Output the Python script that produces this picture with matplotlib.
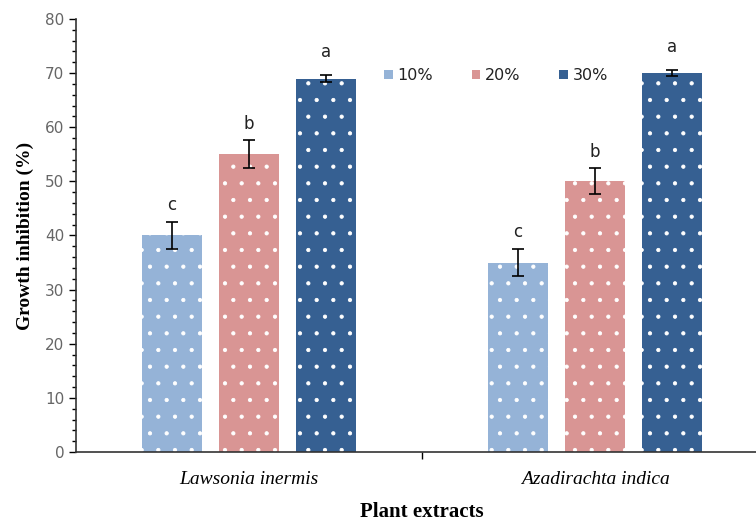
import numpy as np
import matplotlib.pyplot as plt
from matplotlib.ticker import MultipleLocator, FixedLocator

# growth inhibition by extract and concentration
extracts = ['Lawsonia inermis', 'Azadirachta indica']
concentrations = ['10%', '20%', '30%']
inhibition = {
    '10%': [40.0, 35.0],
    '20%': [55.0, 50.0],
    '30%': [69.0, 70.0],
}
errors = {
    '10%': [2.5, 2.5],
    '20%': [2.6, 2.4],
    '30%': [0.7, 0.5],
}
letters = {
    '10%': ['c', 'c'],
    '20%': ['b', 'b'],
    '30%': ['a', 'a'],
}
colors = ['#95B3D7', '#D99594', '#366092']

plt.rcParams['hatch.linewidth'] = 0.6

fig = plt.figure(figsize=(7.56, 5.23), dpi=100)
ax = fig.add_axes([0.1005, 0.1358, 0.9153, 0.8279])

x = np.arange(len(extracts))
width = 0.173
step = 0.2225

for i, conc in enumerate(concentrations):
    pos = x + (i - 1) * step
    ax.bar(pos, inhibition[conc], width, color=colors[i], edgecolor='white',
           linewidth=0, hatch='.', label=conc, zorder=2)
    ax.errorbar(pos, inhibition[conc], yerr=errors[conc], fmt='none',
                ecolor='black', elinewidth=1.2, capsize=4.5, capthick=1.2, zorder=3)
    for p, v, e, t in zip(pos, inhibition[conc], errors[conc], letters[conc]):
        # letters above the tallest bars sit a bit higher
        gap = 2.6 if t == 'a' else 1.4
        ax.text(p, v + e + gap, t, ha='center', va='bottom', fontsize=12,
                color='#222222')

ax.set_xlim(-0.5, 1.5)
ax.set_ylim(0, 80)

ax.yaxis.set_major_locator(MultipleLocator(10))
ax.yaxis.set_minor_locator(MultipleLocator(2))
ax.tick_params(axis='y', which='major', length=5, width=1, labelsize=11,
               labelcolor='#666666', direction='out')
ax.tick_params(axis='y', which='minor', length=3, width=1, direction='out')

ax.xaxis.set_major_locator(FixedLocator([0.5]))
ax.xaxis.set_minor_locator(FixedLocator(x))
ax.tick_params(axis='x', which='major', length=5, width=1, labelbottom=False)
ax.tick_params(axis='x', which='minor', length=0, pad=14)
ax.xaxis.set_minor_formatter(plt.FixedFormatter(extracts))
for lbl in ax.xaxis.get_minorticklabels():
    lbl.set_fontfamily('Liberation Serif')
    lbl.set_fontstyle('italic')
    lbl.set_fontsize(14)

for side in ['top', 'right']:
    ax.spines[side].set_visible(False)
for side in ['left', 'bottom']:
    ax.spines[side].set_linewidth(1.2)
    ax.spines[side].set_color('#333333')

ax.set_ylabel('Growth inhibition (%)', fontfamily='Liberation Serif',
              fontweight='bold', fontsize=14, labelpad=8)
ax.set_xlabel('Plant extracts', fontfamily='Liberation Serif',
              fontweight='bold', fontsize=15, labelpad=10)

leg = ax.legend(loc='upper center', bbox_to_anchor=(0.607, 0.92), ncol=3,
                frameon=False, fontsize=11.5, handlelength=0.55, handleheight=0.55,
                handletextpad=0.3, columnspacing=2.4)
for t in leg.get_texts():
    t.set_color('#222222')

fig.savefig('out.png', dpi=100)
